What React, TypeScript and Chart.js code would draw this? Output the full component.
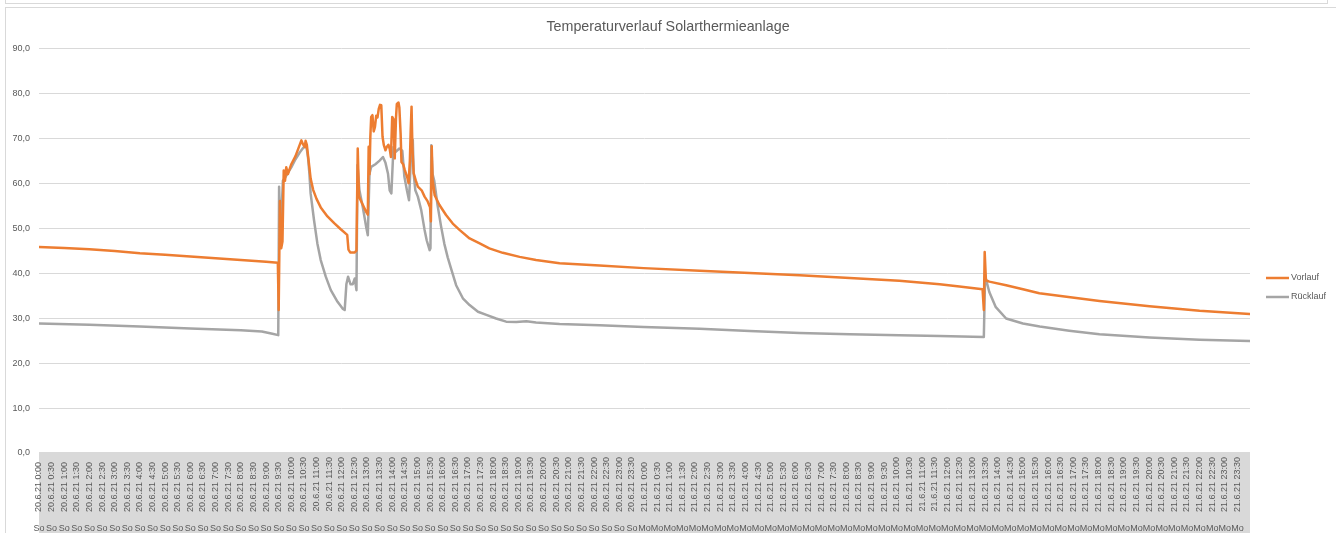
import React, { useEffect, useRef } from "react";
import { Chart, registerables } from "chart.js";

Chart.register(...registerables);

const chartTitle = "Temperaturverlauf Solarthermieanlage";
const seriesNames = ["Vorlauf", "Rücklauf"];
const seriesColors = ["#ED7D31", "#A5A5A5"];
const dayLabels = ["20.6.21", "21.6.21"];
const weekdayLabels = ["So", "Mo"];
const halfHourLabels = ["00", "30"];
const yMin = 0;
const yMax = 90;
const yStep = 10;

// minutes since 20.6.21 0:00
const vorlaufMinutes = [
  0, 60, 120, 180, 240, 300, 360, 420, 480, 540, 568,
  570, 573, 576, 579, 582, 585, 588, 592, 600, 610,
  620, 624, 628, 632, 634, 637, 640, 643, 646, 652,
  660, 670, 686, 702, 717, 733, 736, 740, 751, 755,
  758, 761, 770, 778, 782, 784, 786, 788, 790, 793,
  796, 799, 802, 805, 808, 811, 814, 817, 820, 824,
  827, 831, 834, 837, 840, 843, 846, 849, 851, 855,
  857, 860, 862, 866, 870, 876, 879, 882, 884, 886,
  888, 891, 896, 901, 910, 917, 924, 930, 932, 934,
  936, 941, 952, 968, 984, 1000, 1024, 1048, 1071, 1103,
  1143, 1182, 1238, 1333, 1438, 1571, 1690, 1809, 1928, 2046,
  2142, 2189, 2244, 2247, 2249, 2252, 2260, 2300, 2340, 2379,
  2522, 2641, 2760, 2879,
];
const vorlaufTemps = [
  45.8, 45.6, 45.3, 44.9, 44.4, 44.1, 43.7, 43.3, 42.9, 42.5, 42.3,
  31.8, 56.0, 45.5, 47.0, 62.8, 60.5, 63.5, 62.0, 64.2, 66.0,
  68.5, 69.5, 68.6, 68.0, 69.4, 68.5, 66.0, 63.5, 61.0, 58.5,
  56.5, 54.6, 52.6, 51.1, 49.8, 48.5, 45.2, 44.6, 44.6, 45.0,
  67.7, 57.0, 55.2, 53.6, 53.0, 68.1, 62.0, 70.3, 74.7, 75.1,
  71.5, 72.5, 75.0, 74.6, 76.5, 77.4, 77.3, 70.3, 68.5, 67.3,
  68.0, 68.5, 67.6, 65.8, 74.7, 74.2, 65.5, 74.5, 77.6, 77.9,
  76.8, 71.0, 64.7, 64.2, 62.9, 61.2, 60.0, 65.0, 71.8, 77.0,
  68.0, 62.2, 60.6, 59.2, 58.4, 57.0, 56.0, 54.6, 51.5, 68.2,
  60.7, 57.3, 55.2, 52.9, 51.0, 49.6, 47.7, 46.6, 45.5, 44.5,
  43.6, 42.9, 42.2, 41.7, 41.1, 40.5, 40.0, 39.5, 38.9, 38.3,
  37.5, 37.0, 36.4, 31.8, 44.7, 38.4, 38.1, 37.3, 36.4, 35.5,
  33.8, 32.6, 31.6, 30.9,
];

const ruecklaufMinutes = [
  0, 120, 240, 360, 480, 530, 555, 569, 571, 574,
  577, 580, 584, 590, 600, 610, 620, 628, 634, 637,
  640, 643, 646, 654, 662, 670, 682, 694, 710, 722,
  727, 731, 735, 741, 746, 751, 755, 757.5, 762, 770,
  778, 782, 786, 790, 800, 810, 818, 824, 830, 834,
  838, 843, 849, 857, 864, 869, 875, 880, 886, 889,
  891, 895, 901, 909, 917, 922, 929, 931, 933, 936,
  940, 948, 956, 964, 972, 980, 992, 1008, 1024, 1044,
  1064, 1087, 1111, 1135, 1159, 1182, 1238, 1333, 1438, 1571,
  1690, 1809, 1928, 2046, 2142, 2247, 2250, 2260, 2275, 2300,
  2340, 2380, 2450, 2522, 2641, 2760, 2879,
];
const ruecklaufTemps = [
  28.8, 28.5, 28.1, 27.7, 27.3, 27.0, 26.5, 26.2, 59.2, 50.0,
  54.0, 60.5, 61.0, 62.0, 63.5, 65.3, 66.8, 67.8, 68.4, 67.5,
  65.5, 62.2, 57.7, 51.8, 46.6, 42.9, 39.2, 36.2, 33.6, 32.1,
  31.8, 37.5, 39.2, 37.5, 37.5, 38.8, 36.2, 64.0, 58.4, 54.7,
  50.3, 48.4, 62.1, 63.6, 64.2, 65.0, 65.8, 64.5, 62.1, 58.4,
  57.7, 68.0, 67.0, 67.7, 67.2, 61.4, 58.4, 56.2, 68.8, 69.6,
  62.1, 58.4, 57.0, 54.0, 49.6, 47.3, 45.1, 45.5, 68.4, 62.0,
  60.5, 55.0, 50.5, 46.5, 43.5, 41.0, 37.3, 34.4, 32.9, 31.4,
  30.7, 29.9, 29.2, 29.1, 29.3, 29.0, 28.7, 28.4, 28.0, 27.6,
  27.1, 26.7, 26.4, 26.2, 26.0, 25.8, 39.4, 35.8, 32.5, 29.9,
  28.8, 28.1, 27.2, 26.4, 25.7, 25.2, 24.9,
];

// category tick labels: every 30 minutes over both days
const timeLabels: string[] = [];
const weekdayTickLabels: string[] = [];
dayLabels.forEach((day, d) => {
  for (let h = 0; h < 24; h++) {
    for (const m of halfHourLabels) {
      timeLabels.push(`${day} ${h}:${m}`);
      weekdayTickLabels.push(weekdayLabels[d]);
    }
  }
});
const tickMinutes = timeLabels.map((_, i) => i * 30);
const xMax = timeLabels.length * 30;

const FONT = "'Liberation Sans', Arial, sans-serif";
const TEXT = "#595959";

const toPoints = (xs: number[], ys: number[]) => xs.map((x, i) => ({ x, y: ys[i] }));

const bandPlugin = {
  id: "axisBand",
  beforeDraw(chart: any) {
    const { ctx, chartArea } = chart;
    ctx.save();
    ctx.fillStyle = "#d9d9d9";
    ctx.fillRect(
      chartArea.left,
      chartArea.bottom - 1,
      chartArea.right - chartArea.left,
      chart.height - chartArea.bottom + 1
    );
    ctx.restore();
  },
};

const legendPlugin = {
  id: "sideLegend",
  afterDraw(chart: any) {
    const { ctx } = chart;
    ctx.save();
    ctx.font = `9px ${FONT}`;
    ctx.textBaseline = "middle";
    ctx.textAlign = "left";
    chart.data.datasets.forEach((ds: any, i: number) => {
      const y = 278 + i * 19;
      ctx.strokeStyle = ds.borderColor;
      ctx.lineWidth = 2.5;
      ctx.beginPath();
      ctx.moveTo(1266, y);
      ctx.lineTo(1289, y);
      ctx.stroke();
      ctx.fillStyle = TEXT;
      ctx.fillText(ds.label, 1291, y);
    });
    ctx.restore();
  },
};

export default function App() {
  const canvasRef = useRef<HTMLCanvasElement>(null);

  useEffect(() => {
    const canvas = canvasRef.current;
    if (!canvas) return;
    Chart.defaults.font.family = FONT;
    Chart.defaults.color = TEXT;
    const chart = new Chart(canvas, {
      type: "line",
      data: {
        datasets: [
          {
            label: seriesNames[0],
            data: toPoints(vorlaufMinutes, vorlaufTemps),
            borderColor: seriesColors[0],
            backgroundColor: seriesColors[0],
            borderWidth: 2.5,
            pointRadius: 0,
            tension: 0,
            borderJoinStyle: "round",
            borderCapStyle: "round",
          },
          {
            label: seriesNames[1],
            data: toPoints(ruecklaufMinutes, ruecklaufTemps),
            borderColor: seriesColors[1],
            backgroundColor: seriesColors[1],
            borderWidth: 2.5,
            pointRadius: 0,
            tension: 0,
            borderJoinStyle: "round",
            borderCapStyle: "round",
          },
        ],
      },
      options: {
        animation: false,
        responsive: false,
        events: [],
        layout: { padding: 0 },
        plugins: {
          legend: { display: false },
          tooltip: { enabled: false },
          title: {
            display: true,
            text: chartTitle,
            color: TEXT,
            font: { size: 14.3, weight: "normal", family: FONT },
            padding: { top: 18.5, bottom: 12.5 },
          },
        },
        scales: {
          x: {
            type: "linear",
            position: "bottom",
            min: 0,
            max: xMax,
            grid: { display: false, drawTicks: false },
            border: { display: false },
            ticks: {
              autoSkip: false,
              minRotation: 90,
              maxRotation: 90,
              padding: 4,
              color: TEXT,
              font: { size: 9, family: FONT },
              callback: (v: any) => {
                const s = timeLabels[Math.round(Number(v) / 30)] ?? "";
                return s.length < 13 ? s + "\u2007" : s;
              },
            },
            afterBuildTicks: (s: any) => {
              s.ticks = tickMinutes.map((value) => ({ value }));
            },
            afterFit: (s: any) => {
              s.height = 68;
            },
          },
          x2: {
            type: "linear",
            position: "bottom",
            min: 0,
            max: xMax,
            grid: { display: false, drawTicks: false },
            border: { display: false },
            ticks: {
              autoSkip: false,
              minRotation: 0,
              maxRotation: 0,
              padding: 2,
              color: TEXT,
              font: { size: 9, family: FONT },
              callback: (v: any) => weekdayTickLabels[Math.round(Number(v) / 30)] ?? "",
            },
            afterBuildTicks: (s: any) => {
              s.ticks = tickMinutes.map((value) => ({ value }));
            },
            afterFit: (s: any) => {
              s.height = 12;
            },
          },
          y: {
            position: "left",
            min: yMin,
            max: yMax,
            grid: { color: "#d9d9d9", drawTicks: false, lineWidth: 1 },
            border: { display: false },
            ticks: {
              stepSize: yStep,
              padding: 9,
              color: TEXT,
              font: { size: 9, family: FONT },
              callback: (v: any) => Number(v).toFixed(1).replace(".", ","),
            },
            afterFit: (s: any) => {
              s.width = 39;
            },
          },
          legendSpace: {
            type: "linear",
            position: "right",
            min: yMin,
            max: yMax,
            grid: { display: false, drawTicks: false },
            border: { display: false },
            ticks: { display: false },
            afterFit: (s: any) => {
              s.width = 86;
            },
          },
        },
      } as any,
      plugins: [bandPlugin, legendPlugin],
    });
    return () => chart.destroy();
  }, []);

  return (
    <div
      style={{
        position: "fixed",
        left: 0,
        top: 0,
        width: 1336,
        height: 533,
        background: "#fff",
        overflow: "hidden",
      }}
    >
      <div
        style={{
          position: "absolute",
          left: 5,
          top: -10,
          width: 1321,
          height: 12,
          border: "1px solid #d9d9d9",
        }}
      />
      <div
        style={{
          position: "absolute",
          left: 5,
          top: 7,
          width: 1400,
          height: 600,
          border: "1px solid #d9d9d9",
        }}
      />
      <canvas
        ref={canvasRef}
        width={1336}
        height={533}
        style={{ position: "absolute", left: 0, top: 0 }}
      />
    </div>
  );
}
